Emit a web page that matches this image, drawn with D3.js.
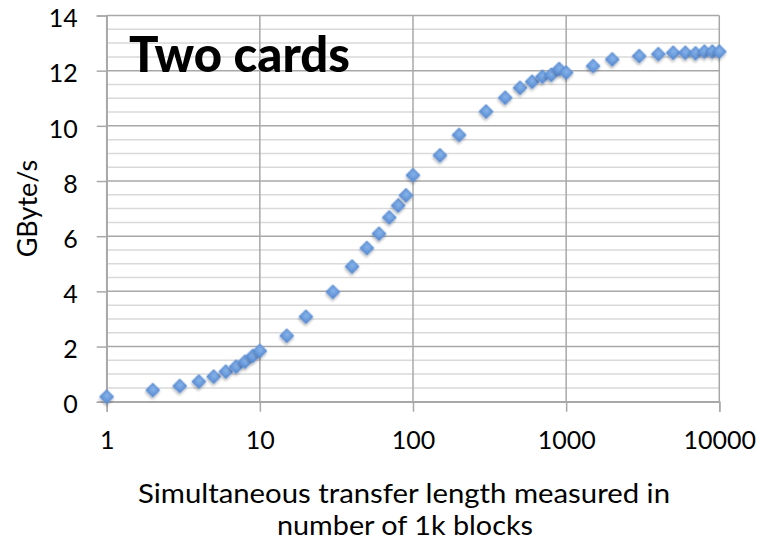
<!DOCTYPE html>
<html>
<head>
<meta charset="utf-8">
<script src="https://cdn.jsdelivr.net/npm/d3@7"></script>
<style>
  html, body { margin: 0; padding: 0; background: #fff; }
  svg { display: block; }
</style>
</head>
<body>
<svg id="chart" width="761" height="543"></svg>
<script>
// ---- data ----
const blocks = [1,2,3,4,5,6,7,8,9,10,15,20,30,40,50,60,70,80,90,100,150,200,300,400,500,600,700,800,900,1000,1500,2000,3000,4000,5000,6000,7000,8000,9000,10000];
const gbytes = [0.18,0.42,0.57,0.73,0.91,1.09,1.27,1.45,1.66,1.84,2.39,3.08,3.98,4.9,5.57,6.09,6.68,7.11,7.48,8.21,8.93,9.67,10.52,11.02,11.38,11.6,11.78,11.85,12.06,11.93,12.17,12.41,12.53,12.6,12.65,12.65,12.63,12.69,12.69,12.69];
const xTicks = [1,10,100,1000,10000];
const yTicks = [0,2,4,6,8,10,12,14];
const yMinor = d3.range(0, 14.01, 0.5);
const titleText = "Two cards";
const yTitle = "GByte/s";
const xTitle1 = "Simultaneous transfer length measured in";
const xTitle2 = "number of 1k blocks";

// ---- layout ----
const L = 106.7, R = 719.3, T = 15.5, B = 401.7;
const svg = d3.select("#chart");
const x = d3.scaleLog().domain([1, 10000]).range([L, R]);
const y = d3.scaleLinear().domain([0, 14]).range([B, T]);
const font = "Lato, 'Open Sans', sans-serif";

const defs = svg.append("defs");
const f = defs.append("filter").attr("id", "sh").attr("x", "-50%").attr("y", "-50%").attr("width", "200%").attr("height", "200%");
f.append("feDropShadow").attr("dx", 1.2).attr("dy", 1.8).attr("stdDeviation", 1.3)
  .attr("flood-color", "#000").attr("flood-opacity", 0.28);
const g = defs.append("radialGradient").attr("id", "mk").attr("cx", "45%").attr("cy", "40%").attr("r", "65%");
g.append("stop").attr("offset", "0%").attr("stop-color", "#86b3ea");
g.append("stop").attr("offset", "100%").attr("stop-color", "#5d8fd4");

// minor horizontal grid
svg.append("g").selectAll("line").data(yMinor.filter(v => v % 2 !== 0)).join("line")
  .attr("x1", L).attr("x2", R).attr("y1", d => y(d)).attr("y2", d => y(d))
  .attr("stroke", "#d9d9d9").attr("stroke-width", 1.5);
// major horizontal grid
svg.append("g").selectAll("line").data(yTicks).join("line")
  .attr("x1", L).attr("x2", R).attr("y1", d => y(d)).attr("y2", d => y(d))
  .attr("stroke", "#a8a8a8").attr("stroke-width", 1.5);
// vertical grid
svg.append("g").selectAll("line").data(xTicks).join("line")
  .attr("x1", d => x(d)).attr("x2", d => x(d)).attr("y1", T).attr("y2", B)
  .attr("stroke", "#a8a8a8").attr("stroke-width", 1.5);

// axes
const yAxis = svg.append("g").attr("transform", `translate(${L},0)`)
  .call(d3.axisLeft(y).tickValues(yTicks).tickSize(10).tickPadding(19).tickFormat(d3.format("d")));
const xAxis = svg.append("g").attr("transform", `translate(0,${B})`)
  .call(d3.axisBottom(x).tickValues(xTicks).tickSize(10).tickPadding(20).tickFormat(d3.format("d")));
[yAxis, xAxis].forEach(a => {
  a.select(".domain").attr("stroke", "#a8a8a8").attr("stroke-width", 1.5);
  a.selectAll(".tick line").attr("stroke", "#a8a8a8").attr("stroke-width", 1.5);
  a.selectAll(".tick text").attr("font-family", font).attr("font-size", 25).attr("fill", "#000");
});
yAxis.selectAll(".tick text").attr("dy", "0.45em");

// markers
svg.append("g").selectAll("path").data(blocks.map((b, i) => [b, gbytes[i]])).join("path")
  .attr("d", d3.symbol(d3.symbolSquare, 98))
  .attr("transform", d => `translate(${x(d[0])},${y(d[1])}) rotate(45)`)
  .attr("fill", "url(#mk)").attr("stroke", "#5a8bd0").attr("stroke-width", 0.8)
  .attr("filter", "url(#sh)");

// title
svg.append("text").attr("x", 129).attr("y", 72)
  .attr("font-family", "Lato, sans-serif").attr("font-weight", 900).attr("font-size", 49)
  .attr("fill", "#000").text(titleText);

// axis titles
svg.append("text").attr("transform", `translate(37,${(T + B) / 2}) rotate(-90)`)
  .attr("text-anchor", "middle").attr("font-family", font).attr("font-size", 27).attr("fill", "#000").text(yTitle);
svg.append("text").attr("x", 404).attr("y", 503).attr("text-anchor", "middle")
  .attr("font-family", font).attr("font-size", 26.5).attr("fill", "#000")
  .attr("textLength", 532).attr("lengthAdjust", "spacingAndGlyphs").text(xTitle1);
svg.append("text").attr("x", 405).attr("y", 535).attr("text-anchor", "middle")
  .attr("font-family", font).attr("font-size", 26.5).attr("fill", "#000")
  .attr("textLength", 256).attr("lengthAdjust", "spacingAndGlyphs").text(xTitle2);
</script>
</body>
</html>
